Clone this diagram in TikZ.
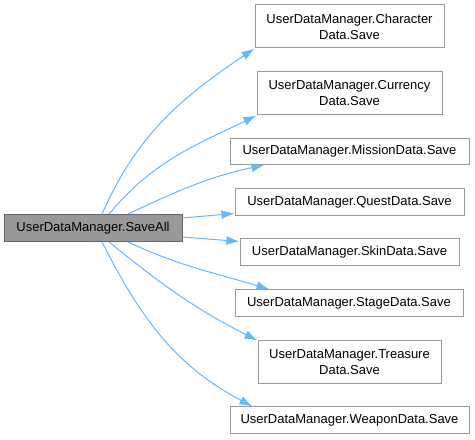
\documentclass[tikz,border=0pt]{standalone}
\usepackage{fontspec}
\setmainfont{Liberation Sans}
\usetikzlibrary{arrows.meta}
\definecolor{edgeblue}{RGB}{99,184,255}
\definecolor{boxgray}{RGB}{153,153,153}
\definecolor{rootgray}{RGB}{102,102,102}
\begin{document}
\begin{tikzpicture}[x=1pt, y=1pt, >={Latex[length=13pt,width=9pt]},   % Pfeilspitzen wie doxygen
	fn/.style={draw=boxgray, fill=white, line width=1pt, inner sep=0pt, align=center,
		font=\fontsize{13}{16}\selectfont},
	root/.style={fn, draw=rootgray, fill=boxgray},
	call/.style={->, draw=edgeblue, line width=1pt}]
	\useasboundingbox (0,0) rectangle (475,440);
	\node[root, minimum width=178, minimum height=27] (saveall) at (93,212) {UserDataManager.SaveAll};
	\node[fn, minimum width=189, minimum height=43] (character) at (349.5,413.5) {UserDataManager.Character\\Data.Save};
	\node[fn, minimum width=185, minimum height=43] (currency) at (349.5,346.5) {UserDataManager.Currency\\Data.Save};
	\node[fn, minimum width=239, minimum height=26] (mission) at (349.5,288.5) {UserDataManager.MissionData.Save};
	\node[fn, minimum width=229, minimum height=27] (quest) at (349.5,237.5) {UserDataManager.QuestData.Save};
	\node[fn, minimum width=219, minimum height=27] (skin) at (349.5,187.5) {UserDataManager.SkinData.Save};
	\node[fn, minimum width=228, minimum height=27] (stage) at (349,136.5) {UserDataManager.StageData.Save};
	\node[fn, minimum width=183, minimum height=43] (treasure) at (349.5,77.5) {UserDataManager.Treasure\\Data.Save};
	\node[fn, minimum width=239, minimum height=27] (weapon) at (349.5,19.5) {UserDataManager.WeaponData.Save};
	\draw[call] ([xshift=9]saveall.north) to[out=66, in=214] (character.south west);
	\draw[call] ([xshift=16]saveall.north) to[out=50, in=206] (currency.south west);
	\draw[call] ([xshift=35]saveall.north) to[out=25, in=192] ([xshift=35]mission.south west);
	\draw[call] ([yshift=10]saveall.east) -- ([yshift=3]quest.south west);
	\draw[call] ([yshift=-9]saveall.east) -- ([yshift=-3]skin.north west);
	\draw[call] ([xshift=35]saveall.south) to[out=-25, in=163] ([xshift=35]stage.north west);
	\draw[call] ([xshift=16]saveall.south) to[out=-39, in=153] (treasure.north west);
	\draw[call] ([xshift=9]saveall.south) to[out=-63, in=152] ([xshift=23]weapon.north west);
\end{tikzpicture}
\end{document}
